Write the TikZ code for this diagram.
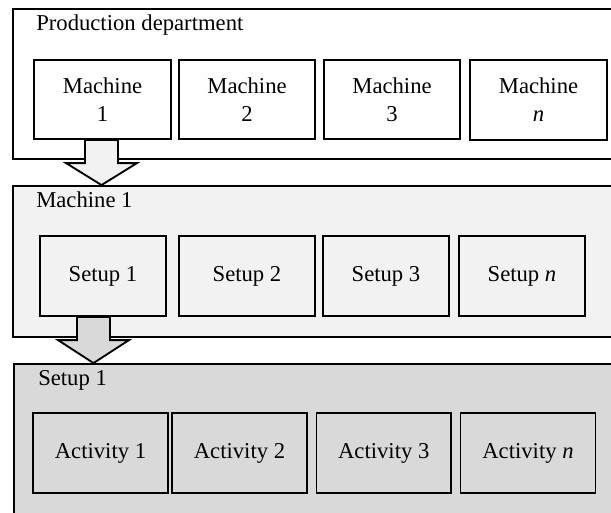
\documentclass[tikz,border=0pt]{standalone}
\usepackage{fontspec}
\setmainfont{Liberation Serif}
\usetikzlibrary{fit,calc}
\definecolor{lightfill}{HTML}{F2F2F2}
\definecolor{midfill}{HTML}{D9D9D9}
\begin{document}
\begin{tikzpicture}[x=0.75pt,y=-0.75pt,
  txt/.style={font=\fontsize{17}{21}\selectfont},
  box/.style 2 args={draw=black, line width=1.4pt, inner sep=0pt, align=center, txt,
    minimum width=#1*0.75pt, minimum height=#2*0.75pt, anchor=center},
  panel/.style={draw=black, line width=1.4pt, inner sep=0pt},
  lbl/.style={anchor=base west, inner sep=0pt, txt},
  flow/.style={draw=black, line width=1.4pt, line join=miter}]
\useasboundingbox (0,0) rectangle (611,512);
\begin{scope}
\clip (0,0) rectangle (611,512);
\fill[white] (0,0) rectangle (611,512);
% Panel 1
\node[panel, fill=white, fit={(12.7,9) (640,159)}] (p1) {};
\node[lbl] (l1) at (36,30) {Production department};
\node[box={137}{79}] (m1) at (102.5,99.5) {Machine\\1};
\node[box={136}{79}] (m2) at (247,99.5) {Machine\\2};
\node[box={136}{79}] (m3) at (392,99.5) {Machine\\3};
\node[box={137}{80}] (mn) at (538.5,100) {Machine\\\textit{n}};
% Panel 2
\node[panel, fill=lightfill, fit={(12.7,186) (640,337)}] (p2) {};
\node[lbl] (l2) at (36,207) {Machine 1};
\node[box={126}{80}] (s1) at (103,276) {Setup 1};
\node[box={136}{80}] (s2) at (247,276) {Setup 2};
\node[box={126}{80}] (s3) at (386,276) {Setup 3};
\node[box={126}{80}] (sn) at (522,276) {Setup \textit{n}};
% Panel 3
\node[panel, fill=midfill, fit={(14,364) (640,540)}] (p3) {};
\node[lbl] (l3) at (38,385) {Setup 1};
\node[box={135}{80}] (a1) at (100.5,453) {Activity 1};
\node[box={135}{80}] (a2) at (239.5,453) {Activity 2};
\node[box={134.5}{80}] (a3) at (383.75,453) {Activity 3};
\node[box={135}{80}] (an) at (528,453) {Activity \textit{n}};
% Arrow 1: Machine 1 -> panel 2
\coordinate (r1) at ($(m1.south)+(-1,0)$);
\coordinate (t1) at (r1 |- p2.north);
\draw[flow, fill=lightfill]
  ($(r1)+(-16.5,0)$) -- ($(r1)+(16.5,0)$) -- ($(t1)+(16.5,-22)$) -- ($(t1)+(35.5,-22)$)
  -- (t1) -- ($(t1)+(-35.5,-22)$) -- ($(t1)+(-16.5,-22)$) -- cycle;
% Arrow 2: Setup 1 -> panel 3
\coordinate (r2) at ($(s1.south)+(-9.5,0)$);
\coordinate (t2) at (r2 |- p3.north);
\draw[flow, fill=midfill]
  ($(r2)+(-16.5,0)$) -- ($(r2)+(16.5,0)$) -- ($(t2)+(16.5,-23)$) -- ($(t2)+(35.5,-23)$)
  -- (t2) -- ($(t2)+(-35.5,-23)$) -- ($(t2)+(-16.5,-23)$) -- cycle;
\end{scope}
\end{tikzpicture}
\end{document}
